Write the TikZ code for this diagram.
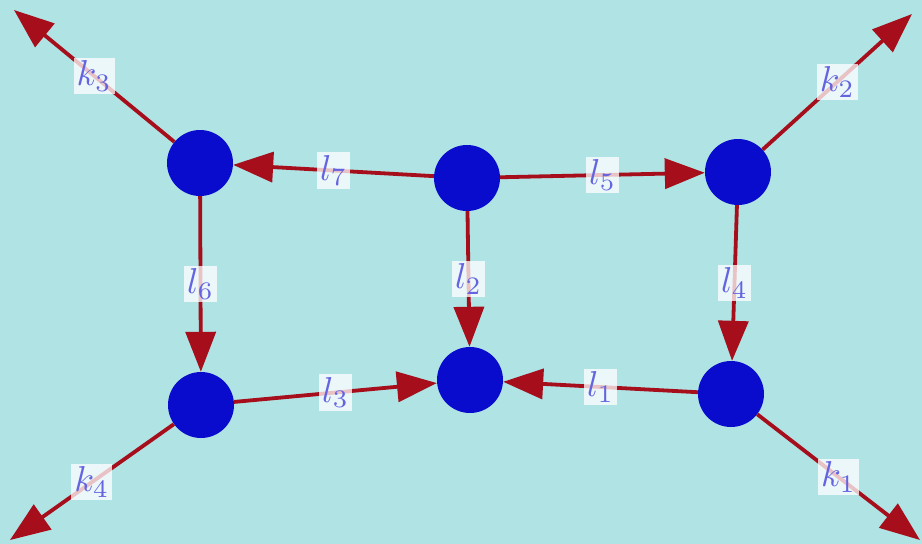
\RequirePackage{fix-cm}
\documentclass[tikz,border=0pt]{standalone}
\usetikzlibrary{arrows.meta}
\definecolor{bg}{RGB}{176,227,228}
\definecolor{nodeblue}{RGB}{10,12,205}
\definecolor{edgered}{RGB}{165,14,26}
\definecolor{labblue}{RGB}{100,100,225}
\newcommand\mylab[1]{\scalebox{3.6}{$#1$}}
\begin{document}
\begin{tikzpicture}[x=1pt,y=-1pt,
  vert/.style={circle,fill=nodeblue,minimum size=66pt,inner sep=0pt},
  prop/.style={draw=edgered,line width=3.8pt,-{Triangle[length=40pt,width=30pt]}},
  lab/.style={fill=white,fill opacity=0.75,text opacity=1,text=labblue,inner sep=3pt}]
\fill[bg] (0,0) rectangle (922,544);
\useasboundingbox (0,0) rectangle (922,544);
\node[vert] (tl) at (200,163) {};
\node[vert] (tm) at (467,178) {};
\node[vert] (tr) at (738,172) {};
\node[vert] (bl) at (201,405) {};
\node[vert] (bm) at (470,380) {};
\node[vert] (br) at (731,394) {};
\coordinate (k3e) at (14,10);
\coordinate (k2e) at (912,14);
\coordinate (k4e) at (10,540);
\coordinate (k1e) at (920,540);
\draw[prop] (tm) -- node[lab] {\mylab{l_7}} (tl);
\draw[prop] (tm) -- node[lab] {\mylab{l_5}} (tr);
\draw[prop] (tm) -- node[lab] {\mylab{l_2}} (bm);
\draw[prop] (tl) -- node[lab] {\mylab{l_6}} (bl);
\draw[prop] (tr) -- node[lab] {\mylab{l_4}} (br);
\draw[prop] (bl) -- node[lab] {\mylab{l_3}} (bm);
\draw[prop] (br) -- node[lab] {\mylab{l_1}} (bm);
\draw[prop] (tl) -- node[lab] {\mylab{k_3}} (k3e);
\draw[prop] (tr) -- node[lab] {\mylab{k_2}} (k2e);
\draw[prop] (bl) -- node[lab] {\mylab{k_4}} (k4e);
\draw[prop] (br) -- node[lab] {\mylab{k_1}} (k1e);
\end{tikzpicture}
\end{document}
